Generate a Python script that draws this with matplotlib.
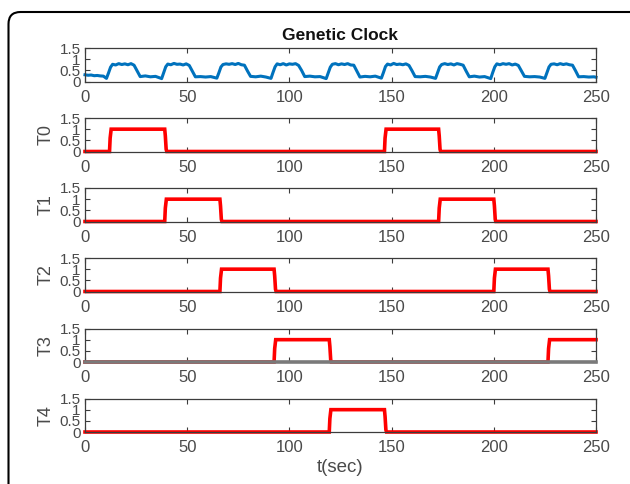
import matplotlib.pyplot as plt
from matplotlib.patches import FancyBboxPatch

plt.rcParams['font.family'] = ['Liberation Sans', 'DejaVu Sans']

# clock signal (top panel)
clock_t = [0, 1.5, 3, 4.5, 6, 7.5, 9,
           10.5, 11.5, 12.5, 13.5, 15, 16.5, 18, 19.5, 21, 22.5, 24, 25.5, 27, 29.5, 32, 34.5,
           37.5, 38.5, 39.5, 40.5, 42, 43.5, 45, 46.5, 48, 49.5, 51, 52.5, 54, 56.5, 59, 61.5,
           64.5, 65.5, 66.5, 67.5, 69, 70.5, 72, 73.5, 75, 76.5, 78, 79.5, 81, 83.5, 86, 88.5,
           91, 92, 93, 94, 95.5, 97, 98.5, 100, 101.5, 103, 104.5, 106, 107.5, 110, 112.5, 115,
           118, 119, 120, 121, 122.5, 124, 125.5, 127, 128.5, 130, 131.5, 133, 134.5, 137, 139.5, 142,
           145, 146, 147, 148, 149.5, 151, 152.5, 154, 155.5, 157, 158.5, 160, 161.5, 164, 166.5, 169,
           171.5, 172.5, 173.5, 174.5, 176, 177.5, 179, 180.5, 182, 183.5, 185, 186.5, 188, 190.5, 193, 195.5,
           198.5, 199.5, 200.5, 201.5, 203, 204.5, 206, 207.5, 209, 210.5, 212, 213.5, 215, 217.5, 220, 222.5,
           225, 226, 227, 228, 229.5, 231, 232.5, 234, 235.5, 237, 238.5, 240, 241.5, 244, 246.5, 249, 250]
clock_v = [0.30, 0.28, 0.29, 0.26, 0.27, 0.25, 0.24,
           0.14, 0.38, 0.64, 0.77, 0.74, 0.80, 0.76, 0.79, 0.75, 0.80, 0.73, 0.48, 0.22, 0.25, 0.21, 0.23,
           0.13, 0.40, 0.66, 0.78, 0.75, 0.81, 0.77, 0.78, 0.74, 0.79, 0.72, 0.46, 0.21, 0.22, 0.20, 0.22,
           0.15, 0.39, 0.65, 0.76, 0.79, 0.77, 0.80, 0.76, 0.81, 0.75, 0.73, 0.47, 0.23, 0.21, 0.24, 0.20,
           0.14, 0.41, 0.66, 0.79, 0.75, 0.80, 0.74, 0.79, 0.77, 0.80, 0.72, 0.49, 0.22, 0.24, 0.21, 0.22,
           0.13, 0.38, 0.64, 0.77, 0.80, 0.75, 0.79, 0.76, 0.80, 0.74, 0.73, 0.47, 0.20, 0.23, 0.21, 0.24,
           0.15, 0.40, 0.67, 0.78, 0.74, 0.81, 0.76, 0.78, 0.75, 0.79, 0.72, 0.48, 0.22, 0.21, 0.23, 0.20,
           0.14, 0.39, 0.65, 0.76, 0.80, 0.76, 0.79, 0.74, 0.80, 0.77, 0.73, 0.46, 0.21, 0.24, 0.20, 0.22,
           0.13, 0.41, 0.66, 0.79, 0.75, 0.80, 0.77, 0.80, 0.74, 0.78, 0.72, 0.47, 0.23, 0.21, 0.22, 0.20,
           0.14, 0.40, 0.65, 0.77, 0.79, 0.75, 0.80, 0.76, 0.79, 0.75, 0.73, 0.48, 0.21, 0.22, 0.20, 0.21, 0.19]

# stage signals T0..T4
t0_t = [0, 12, 12.3, 12.8, 39, 39.3, 39.7, 40, 146.5, 146.8, 147.3, 173, 173.3, 173.7, 174, 250]
t0_v = [0, 0, 0.6, 1, 1, 0.7, 0.1, 0, 0, 0.6, 1, 1, 0.7, 0.1, 0, 0]
t1_t = [0, 39, 39.3, 39.8, 66, 66.3, 66.7, 67, 173, 173.3, 173.8, 200, 200.3, 200.7, 201, 250]
t1_v = [0, 0, 0.6, 1, 1, 0.7, 0.1, 0, 0, 0.6, 1, 1, 0.7, 0.1, 0, 0]
t2_t = [0, 66, 66.3, 66.8, 92.5, 92.8, 93.2, 93.5, 200, 200.3, 200.8, 226.5, 226.8, 227.2, 227.5, 250]
t2_v = [0, 0, 0.6, 1, 1, 0.7, 0.1, 0, 0, 0.6, 1, 1, 0.7, 0.1, 0, 0]
t3_t = [0, 92.5, 92.8, 93.3, 119.5, 119.8, 120.2, 120.5, 226.5, 226.8, 227.3, 250]
t3_v = [0, 0, 0.6, 1, 1, 0.7, 0.1, 0, 0, 0.6, 1, 1]
t4_t = [0, 119.5, 119.8, 120.3, 146.5, 146.8, 147.2, 147.5, 250]
t4_v = [0, 0, 0.6, 1, 1, 0.7, 0.1, 0, 0]

stage_names = ['T0', 'T1', 'T2', 'T3', 'T4']
stage_t = [t0_t, t1_t, t2_t, t3_t, t4_t]
stage_v = [t0_v, t1_v, t2_v, t3_v, t4_v]

xticks = [0, 50, 100, 150, 200, 250]
yticks = [0, 0.5, 1, 1.5]
ytick_labels = ['0', '0.5', '1', '1.5']

W, H = 630, 484
fig = plt.figure(figsize=(W / 100, H / 100), dpi=100)

spine_col = '#3c3c3c'
text_col = '#4a4a4a'


def make_axes(top_px):
    ax = fig.add_axes([85 / W, 1 - (top_px + 33.5) / H, 511 / W, 33.5 / H])
    ax.set_xlim(0, 250)
    ax.set_ylim(0, 1.5)
    ax.set_xticks(xticks)
    ax.set_xticklabels([str(x) for x in xticks], fontsize=12, color=text_col)
    ax.set_yticks(yticks)
    ax.set_yticklabels(ytick_labels, fontsize=11, color=text_col)
    ax.tick_params(direction='in', top=True, right=True, length=3.5, width=0.8,
                   colors=spine_col, labelcolor=text_col)
    ax.tick_params(axis='x', pad=6)
    ax.tick_params(axis='y', pad=3)
    for s in ax.spines.values():
        s.set_color(spine_col)
        s.set_linewidth(0.9)
    return ax


tops = [48, 118, 188, 258, 328.5, 398.5]

ax0 = make_axes(tops[0])
ax0.plot(clock_t, clock_v, color='#0072BD', lw=2.2, clip_on=False)
ax0.set_title('Genetic Clock', fontsize=12.5, fontweight='bold', color='#111111', pad=6)

for i, name in enumerate(stage_names):
    ax = make_axes(tops[i + 1])
    ax.plot(stage_t[i], stage_v[i], color='#FF0000', lw=2.6, clip_on=False,
            solid_joinstyle='miter')
    ax.set_ylabel(name, fontsize=13, color=text_col, labelpad=4)
    if name == 'T3':
        # in the picture the axis line sits on top of the zero level here
        ax.spines['bottom'].set_zorder(5)
        ax.spines['bottom'].set_linewidth(2.6)
        ax.spines['bottom'].set_color('#7a7a7a')
    if name == 'T4':
        ax.set_xlabel('t(sec)', fontsize=13.5, color=text_col, labelpad=3)

# rounded frame around the figure
frame = FancyBboxPatch((0.085, -0.5), 7.0, 4.72 + 0.5,
                       boxstyle='round,pad=0,rounding_size=0.12',
                       transform=fig.dpi_scale_trans, fill=False,
                       edgecolor='black', linewidth=1.5)
fig.patches.append(frame)

fig.savefig('out.png', dpi=100)
